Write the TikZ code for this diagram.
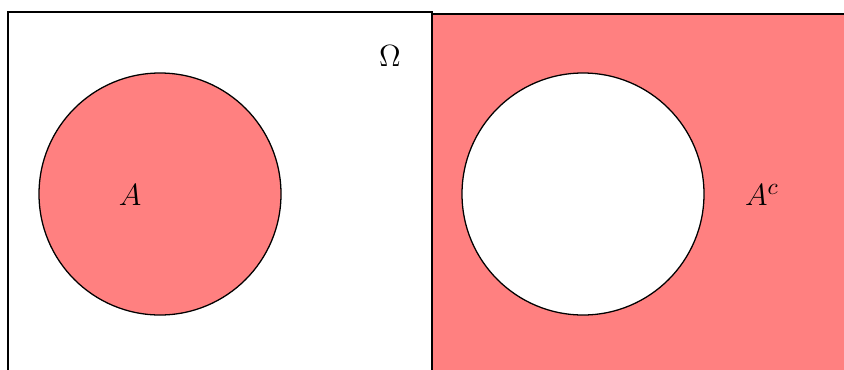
\documentclass[tikz,border=0pt]{standalone}
\begin{document}
\begin{tikzpicture}[x=0.016529cm,y=-0.016529cm,
  setbox/.style={draw=black,line width=0.6pt},
  lbl/.style={font=\fontsize{15}{18}\selectfont}]
\useasboundingbox (0,0) rectangle (844,369);
\begin{scope}
\clip (0,0) rectangle (844,369);
\draw[setbox] (8,420) -- (8,12) -- (432,12) -- (432,420);
\fill[red!50] (432,14) rectangle (900,420);
\draw[setbox] (432,420) -- (432,14) -- (900,14);
\end{scope}
\draw[setbox,fill=red!50] (160,194) circle (121);
\draw[setbox,fill=white] (583,194) circle (121);
\node[lbl] (A) at (130,195) {$A$};
\node[lbl] (Ac) at (762,195) {$A^c$};
\node[lbl] (O) at (390,56) {$\Omega$};
\end{tikzpicture}
\end{document}
